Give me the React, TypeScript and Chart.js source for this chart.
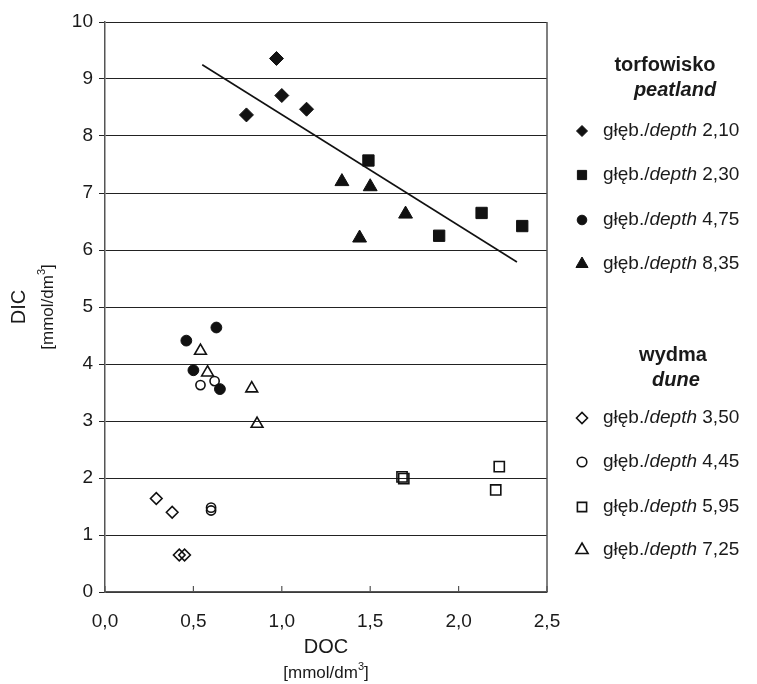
import React, { useEffect, useRef } from 'react';
import { Chart, registerables } from 'chart.js';
import { drawPoint } from 'chart.js/helpers';

Chart.register(...registerables);

const FONT = '"Liberation Sans", Arial, Helvetica, sans-serif';

// ---- data ----
const xTickValues = [0, 0.5, 1, 1.5, 2, 2.5];

const peat210X = [0.80, 0.97, 1.00, 1.14];
const peat210Y = [8.37, 9.36, 8.71, 8.47];
const peat230X = [1.49, 1.89, 2.13, 2.36];
const peat230Y = [7.57, 6.25, 6.65, 6.42];
const peat475X = [0.46, 0.50, 0.63, 0.65];
const peat475Y = [4.41, 3.89, 4.64, 3.56];
const peat835X = [1.34, 1.44, 1.50, 1.70];
const peat835Y = [7.20, 6.21, 7.11, 6.63];

const dune350X = [0.29, 0.38, 0.42, 0.45];
const dune350Y = [1.64, 1.40, 0.65, 0.65];
const dune445X = [0.54, 0.60, 0.60, 0.62];
const dune445Y = [3.63, 1.48, 1.43, 3.70];
const dune595X = [1.68, 1.69, 2.21, 2.23];
const dune595Y = [2.02, 1.99, 1.79, 2.20];
const dune725X = [0.54, 0.58, 0.83, 0.86];
const dune725Y = [4.23, 3.85, 3.57, 2.95];

const trendX = [0.55, 2.33];
const trendY = [9.25, 5.79];

const peatDepths = ['2,10', '2,30', '4,75', '8,35'];
const duneDepths = ['3,50', '4,45', '5,95', '7,25'];
const peatStyles = ['rectRot', 'rect', 'circle', 'triangle'];
const duneStyles = ['rectRot', 'circle', 'rect', 'triangle'];

const pts = (xs: number[], ys: number[]) => xs.map((x, i) => ({ x, y: ys[i] }));

const filled = (data: any, style: string, r: number) => ({
  data,
  pointStyle: style,
  pointRadius: r,
  pointHoverRadius: r,
  backgroundColor: '#111',
  borderColor: '#111',
  borderWidth: 1,
  showLine: false,
});
const open = (data: any, style: string, r: number) => ({
  data,
  pointStyle: style,
  pointRadius: r,
  pointHoverRadius: r,
  backgroundColor: 'rgba(0,0,0,0)',
  borderColor: '#111',
  borderWidth: 1.6,
  showLine: false,
});

// draws "[mmol/dm3]" with a raised 3, centred at (0,0) in current transform
const drawUnit = (ctx: any, size: number) => {
  const a = '[mmol/dm';
  const b = '3';
  const c = ']';
  ctx.font = `${size}px ${FONT}`;
  const wa = ctx.measureText(a).width;
  const wc = ctx.measureText(c).width;
  ctx.font = `${Math.round(size * 0.65)}px ${FONT}`;
  const wb = ctx.measureText(b).width;
  const total = wa + wb + wc;
  let x = -total / 2;
  ctx.textAlign = 'left';
  ctx.textBaseline = 'middle';
  ctx.font = `${size}px ${FONT}`;
  ctx.fillText(a, x, 0);
  x += wa;
  ctx.font = `${Math.round(size * 0.65)}px ${FONT}`;
  ctx.fillText(b, x, -size * 0.35);
  x += wb;
  ctx.font = `${size}px ${FONT}`;
  ctx.fillText(c, x, 0);
  ctx.textAlign = 'center';
};

const decorPlugin = {
  id: 'decor',
  afterDraw(chart: any) {
    const { ctx, chartArea } = chart;
    const { left, right, top, bottom } = chartArea;
    const xs = chart.scales.x;
    ctx.save();
    // right border
    ctx.strokeStyle = '#555';
    ctx.lineWidth = 1.5;
    ctx.beginPath();
    ctx.moveTo(right, top);
    ctx.lineTo(right, bottom);
    ctx.stroke();
    // inner x ticks
    ctx.lineWidth = 1.2;
    xTickValues.forEach((v) => {
      const px = xs.getPixelForValue(v);
      ctx.beginPath();
      ctx.moveTo(px, bottom);
      ctx.lineTo(px, bottom - 6);
      ctx.stroke();
    });

    // axis titles
    ctx.fillStyle = '#1a1a1a';
    ctx.textAlign = 'center';
    ctx.textBaseline = 'middle';
    const cx = (left + right) / 2;
    const cy = (top + bottom) / 2;
    ctx.font = `20px ${FONT}`;
    ctx.fillText('DOC', cx, bottom + 55);
    ctx.save();
    ctx.translate(cx, bottom + 81);
    drawUnit(ctx, 17);
    ctx.restore();
    ctx.save();
    ctx.translate(19, cy);
    ctx.rotate(-Math.PI / 2);
    ctx.font = `20px ${FONT}`;
    ctx.fillText('DIC', 0, 0);
    ctx.restore();
    ctx.save();
    ctx.translate(48, cy);
    ctx.rotate(-Math.PI / 2);
    drawUnit(ctx, 17);
    ctx.restore();

    // legend headers
    ctx.textAlign = 'center';
    ctx.textBaseline = 'middle';
    ctx.font = `bold 20px ${FONT}`;
    ctx.fillText('torfowisko', 665, 65);
    ctx.font = `italic bold 20px ${FONT}`;
    ctx.fillText('peatland', 675, 90);
    ctx.font = `bold 20px ${FONT}`;
    ctx.fillText('wydma', 673, 355);
    ctx.font = `italic bold 20px ${FONT}`;
    ctx.fillText('dune', 676, 380);

    const drawItem = (y: number, style: string, isFilled: boolean, depth: string) => {
      ctx.fillStyle = isFilled ? '#111' : 'rgba(0,0,0,0)';
      ctx.strokeStyle = '#111';
      ctx.lineWidth = isFilled ? 1 : 1.6;
      const r = style === 'triangle' ? 7 : style === 'rect' ? 6.5 : style === 'circle' ? 4.8 : 5.5;
      drawPoint(ctx, { pointStyle: style, radius: r, rotation: 0, borderWidth: ctx.lineWidth }, 582, y);
      ctx.fillStyle = '#1a1a1a';
      ctx.textAlign = 'left';
      let x = 603;
      ctx.font = `19px ${FONT}`;
      ctx.fillText('głęb./', x, y);
      x += ctx.measureText('głęb./').width;
      ctx.font = `italic 19px ${FONT}`;
      ctx.fillText('depth', x, y);
      x += ctx.measureText('depth').width;
      ctx.font = `19px ${FONT}`;
      ctx.fillText(' ' + depth, x, y);
      ctx.textAlign = 'center';
    };
    const peatY = [131, 175, 220, 264];
    const duneY = [418, 462, 507, 550];
    peatStyles.forEach((s, i) => drawItem(peatY[i], s, true, peatDepths[i]));
    duneStyles.forEach((s, i) => drawItem(duneY[i], s, false, duneDepths[i]));
    ctx.restore();
  },
};

export default function App() {
  const ref = useRef<HTMLCanvasElement>(null);
  useEffect(() => {
    document.body.style.margin = '0';
    const chart = new Chart(ref.current!, {
      type: 'scatter',
      data: {
        datasets: [
          {
            data: pts(trendX, trendY),
            showLine: true,
            borderColor: '#111',
            borderWidth: 1.6,
            pointRadius: 0,
            fill: false,
          } as any,
          filled(pts(peat210X, peat210Y), 'rectRot', 7),
          filled(pts(peat230X, peat230Y), 'rect', 8),
          filled(pts(peat475X, peat475Y), 'circle', 5.4),
          filled(pts(peat835X, peat835Y), 'triangle', 8),
          open(pts(dune350X, dune350Y), 'rectRot', 5.8),
          open(pts(dune445X, dune445Y), 'circle', 4.6),
          open(pts(dune595X, dune595Y), 'rect', 7.2),
          open(pts(dune725X, dune725Y), 'triangle', 6.8),
        ],
      },
      options: {
        responsive: false,
        animation: false,
        layout: { padding: { left: 0, top: 22, right: 210, bottom: 0 } },
        plugins: { legend: { display: false }, tooltip: { enabled: false } },
        scales: {
          x: {
            type: 'linear',
            min: 0,
            max: 2.5,
            afterFit: (s: any) => { s.height = 92; },
            afterBuildTicks: (s: any) => { s.ticks = xTickValues.map((v) => ({ value: v })); },
            grid: { display: false },
            border: { display: true, color: '#555', width: 1.5 },
            ticks: {
              color: '#1a1a1a',
              font: { family: FONT, size: 19 },
              padding: 10,
              maxRotation: 0,
              callback: (v: any) => Number(v).toFixed(1).replace('.', ','),
            },
          },
          y: {
            type: 'linear',
            min: 0,
            max: 10,
            afterFit: (s: any) => { s.width = 105; },
            grid: { color: '#222', lineWidth: 1, tickLength: 6, drawTicks: true },
            border: { display: true, color: '#555', width: 1.5 },
            ticks: {
              stepSize: 1,
              color: '#1a1a1a',
              font: { family: FONT, size: 19 },
              padding: 6,
            },
          },
        },
      },
      plugins: [decorPlugin],
    });
    return () => chart.destroy();
  }, []);
  return (
    <div style={{ position: 'absolute', left: 0, top: 0, width: 757, height: 684, background: '#fff' }}>
      <canvas ref={ref} width={757} height={684} />
    </div>
  );
}
